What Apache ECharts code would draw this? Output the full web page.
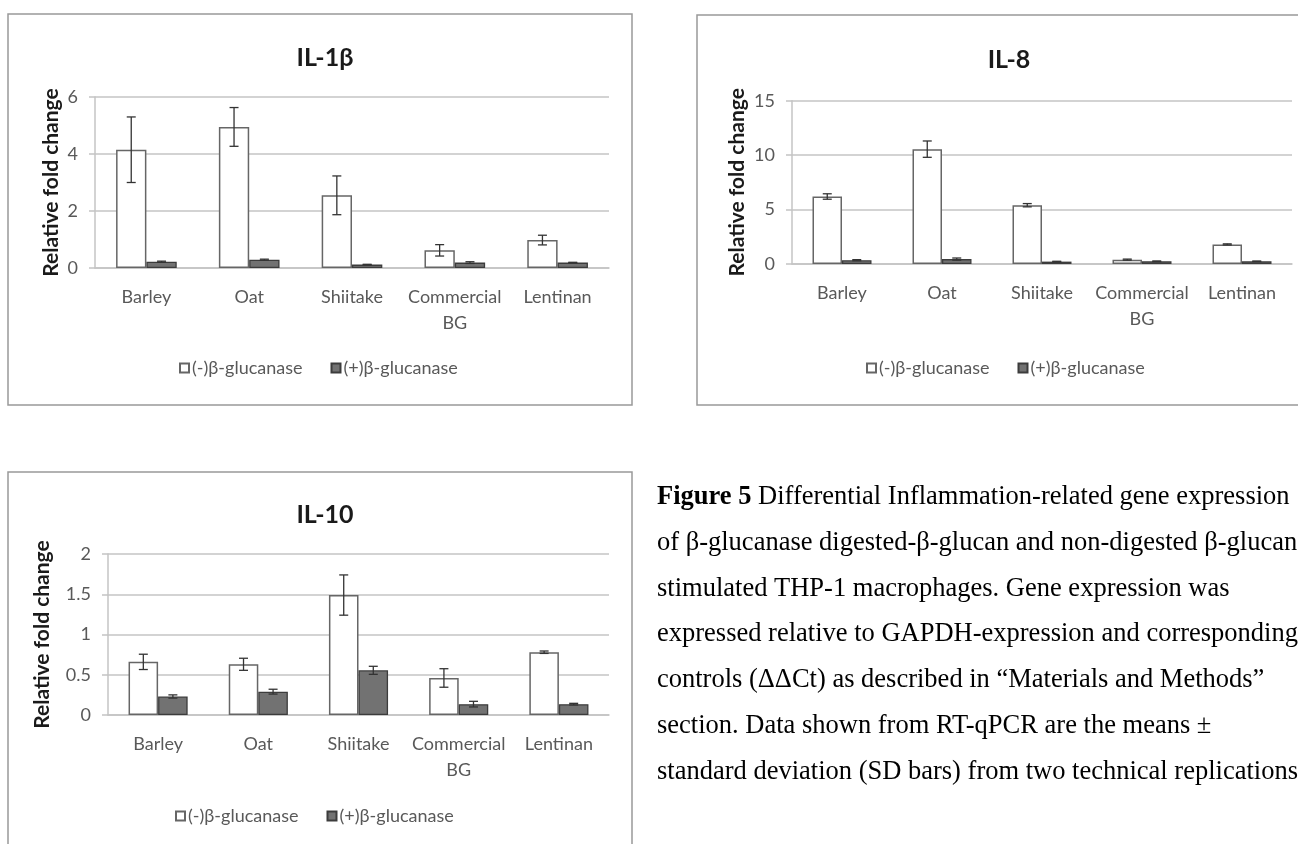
<!DOCTYPE html>
<html><head><meta charset="utf-8">
<script src="https://cdn.jsdelivr.net/npm/echarts@6/dist/echarts.min.js"></script>
<style>html,body{margin:0;padding:0;background:#fff;}#c{width:1298px;height:844px;}</style>
</head><body><div id="c"></div>
<script>
// ---- data ----
const categories = ['Barley', 'Oat', 'Shiitake', 'Commercial BG', 'Lentinan'];
const legendNames = ['(-)β-glucanase', '(+)β-glucanase'];
const chartTitles = ['IL-1β', 'IL-8', 'IL-10'];
const axisTitle = 'Relative fold change';

const il1bMinus   = [4.15, 4.95, 2.55, 0.62, 0.98];
const il1bMinusSD = [1.15, 0.68, 0.68, 0.20, 0.17];
const il1bPlus    = [0.22, 0.29, 0.12, 0.19, 0.19];
const il1bPlusSD  = [0.02, 0.02, 0.01, 0.03, 0.01];

const il8Minus    = [6.2, 10.55, 5.4, 0.4, 1.8];
const il8MinusSD  = [0.25, 0.75, 0.15, 0.05, 0.05];
const il8Plus     = [0.35, 0.45, 0.22, 0.25, 0.25];
const il8PlusSD   = [0.05, 0.10, 0.03, 0.03, 0.02];

const il10Minus   = [0.66, 0.63, 1.49, 0.46, 0.78];
const il10MinusSD = [0.095, 0.075, 0.25, 0.115, 0.015];
const il10Plus    = [0.23, 0.29, 0.555, 0.135, 0.135];
const il10PlusSD  = [0.02, 0.03, 0.05, 0.035, 0.01];

const yAxisMax      = [6, 15, 2];
const yAxisInterval = [2, 5, 0.5];

const captionLines = [
  '{b|Figure 5} Differential Inflammation-related gene expression',
  'of β-glucanase digested-β-glucan and non-digested β-glucan',
  'stimulated THP-1 macrophages. Gene expression was',
  'expressed relative to GAPDH-expression and corresponding',
  'controls (ΔΔCt) as described in “Materials and Methods”',
  'section. Data shown from RT-qPCR are the means ±',
  'standard deviation (SD bars) from two technical replications.'
];

// ---- layout / style ----
const FONT = "Lato, 'Open Sans', sans-serif";
const SERIF = "'Liberation Serif', 'Times New Roman', serif";
const GRIDC = '#c4c4c4';
const LBL = '#595959';
const grids = [
  {left: 95, top: 97, width: 514, height: 171},
  {left: 792, top: 100.7, width: 500, height: 163.3},
  {left: 108, top: 554, width: 501, height: 161}
];
const nameGaps = [33, 44, 55];
const titlePos = [[320, 53], [1004, 55], [320, 510]];
const legendPos = [[179, 359], [866, 359], [175, 807]];
const catGap = 0.41;
const sideOff = (1 - catGap) / 4;

const chartData = [
  [il1bMinus, il1bMinusSD, il1bPlus, il1bPlusSD],
  [il8Minus, il8MinusSD, il8Plus, il8PlusSD],
  [il10Minus, il10MinusSD, il10Plus, il10PlusSD]
];

function errSeries(vals, sds, idx, side) {
  return {
    type: 'custom', xAxisIndex: idx, yAxisIndex: idx, z: 5, silent: true,
    data: vals.map((v, i) => [i, v, sds[i]]),
    encode: {x: 0, y: 1},
    renderItem: function (params, api) {
      const i = api.value(0), v = api.value(1), sd = api.value(2);
      const band = api.size([1, 0])[0];
      const cx = api.coord([i, v])[0] + side * band * sideOff;
      const yt = api.coord([i, v + sd])[1], yb = api.coord([i, v - sd])[1];
      const hw = 4.5;
      const st = {stroke: '#333333', lineWidth: 1.3};
      return {type: 'group', children: [
        {type: 'line', shape: {x1: cx, y1: yt, x2: cx, y2: yb}, style: st},
        {type: 'line', shape: {x1: cx - hw, y1: yt, x2: cx + hw, y2: yt}, style: st},
        {type: 'line', shape: {x1: cx - hw, y1: yb, x2: cx + hw, y2: yb}, style: st}
      ]};
    }
  };
}

const xAxis = [], yAxis = [], series = [], title = [], legend = [];
grids.forEach((g, k) => {
  xAxis.push({
    type: 'category', gridIndex: k, data: categories,
    axisLine: {show: true, lineStyle: {color: GRIDC, width: 1.5}},
    axisTick: {show: false},
    axisLabel: {interval: 0, fontFamily: FONT, fontSize: 18, color: LBL, margin: 16, lineHeight: 26,
      formatter: v => v.replace(' ', '\n')}
  });
  yAxis.push({
    type: 'value', gridIndex: k, min: 0, max: yAxisMax[k], interval: yAxisInterval[k],
    axisLine: {show: true, lineStyle: {color: GRIDC, width: 1.5}},
    axisTick: {show: true, length: 6, lineStyle: {color: GRIDC, width: 1.5}},
    splitLine: {show: true, lineStyle: {color: GRIDC, width: 1.5}},
    axisLabel: {fontFamily: FONT, fontSize: 18, color: LBL, margin: 17},
    name: axisTitle, nameLocation: 'middle', nameGap: nameGaps[k],
    nameTextStyle: {fontFamily: FONT, fontWeight: 'bold', fontSize: 21, color: '#1a1a1a'}
  });
  const d = chartData[k];
  series.push({
    type: 'bar', name: legendNames[0], xAxisIndex: k, yAxisIndex: k, data: d[0],
    barGap: '0%', barCategoryGap: (catGap * 100) + '%',
    itemStyle: {color: '#ffffff', borderColor: '#666666', borderWidth: 1.5}
  });
  series.push({
    type: 'bar', name: legendNames[1], xAxisIndex: k, yAxisIndex: k, data: d[2],
    barGap: '0%', barCategoryGap: (catGap * 100) + '%',
    itemStyle: {color: '#727272', borderColor: '#3c3c3c', borderWidth: 1.3}
  });
  series.push(errSeries(d[0], d[1], k, -1));
  series.push(errSeries(d[2], d[3], k, 1));
  title.push({
    text: chartTitles[k], left: titlePos[k][0], top: titlePos[k][1],
    textAlign: 'center', textVerticalAlign: 'middle',
    textStyle: {fontFamily: FONT, fontWeight: 'bold', fontSize: 25, color: '#1a1a1a'}
  });
  legend.push({
    data: legendNames, left: legendPos[k][0], top: legendPos[k][1], padding: 0,
    icon: 'rect', itemWidth: 9, itemHeight: 9, itemGap: 28, selectedMode: false,
    textStyle: {fontFamily: FONT, fontSize: 18, color: LBL, padding: [0, 0, 0, -2]}
  });
});

const graphic = [
  {type: 'rect', shape: {x: 8, y: 14, width: 624, height: 391}, style: {fill: 'none', stroke: '#999999', lineWidth: 1.5}, z: -10},
  {type: 'rect', shape: {x: 697, y: 15, width: 640, height: 390}, style: {fill: 'none', stroke: '#999999', lineWidth: 1.5}, z: -10},
  {type: 'rect', shape: {x: 8, y: 472, width: 624, height: 420}, style: {fill: 'none', stroke: '#999999', lineWidth: 1.5}, z: -10}
];
captionLines.forEach((t, i) => {
  graphic.push({
    type: 'text', x: 657, y: 497 + i * 45.8,
    style: {
      text: t, fontFamily: SERIF, fontSize: 26.5, fill: '#000000', verticalAlign: 'middle', align: 'left',
      rich: {b: {fontFamily: SERIF, fontSize: 26.5, fontWeight: 'bold', fill: '#000000'}}
    }
  });
});

const chart = echarts.init(document.getElementById('c'), null, {renderer: 'canvas'});
chart.setOption({
  animation: false,
  backgroundColor: '#ffffff',
  grid: grids.map(g => Object.assign({containLabel: false}, g)),
  xAxis, yAxis, series, title, legend, graphic
});
</script></body></html>
